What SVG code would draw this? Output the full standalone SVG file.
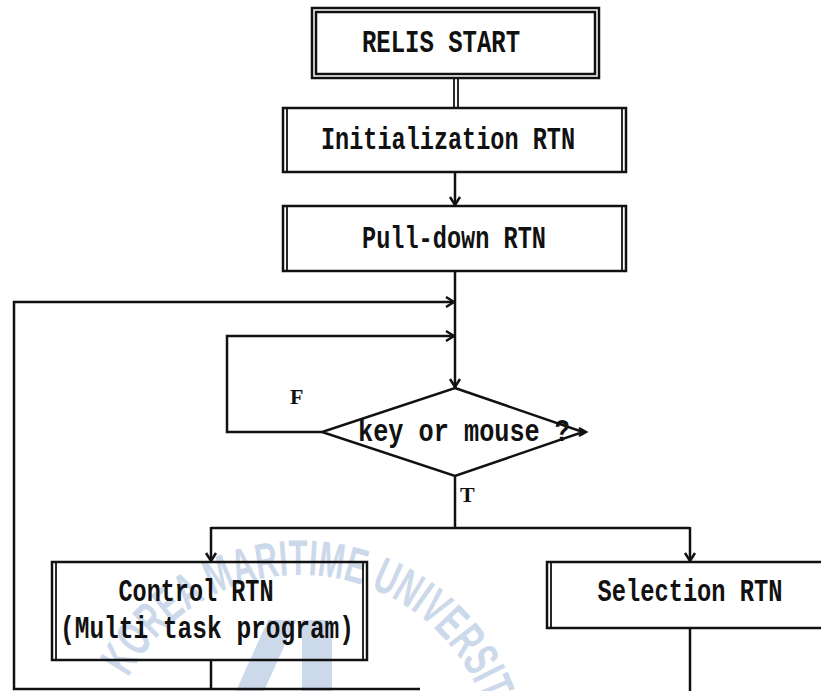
<svg xmlns="http://www.w3.org/2000/svg" width="821" height="691" viewBox="0 0 821 691">
  <style>
    .box { fill: none; stroke: #111; stroke-width: 2.5; }
    .bar { stroke: #111; stroke-width: 1.8; }
    .ln  { fill: none; stroke: #111; stroke-width: 2.5; }
    .lbl { font-family: "Liberation Mono", "DejaVu Sans Mono", monospace; font-weight: bold; font-size: 31px; fill: #111; text-anchor: middle; }
    .tf  { font-family: "Liberation Serif", "DejaVu Serif", serif; font-weight: bold; font-size: 22px; fill: #111; }
    .wm  { font-family: "Liberation Sans", "DejaVu Sans", sans-serif; font-weight: bold; font-size: 50px; fill: #ccd9ea; }
  </style>
  <defs>
    <marker id="arr" markerUnits="userSpaceOnUse" markerWidth="14" markerHeight="14" viewBox="-11 -7 14 14" refX="0" refY="0" orient="auto">
      <path d="M-8,-5 L0,0 L-8,5" fill="none" stroke="#111" stroke-width="2.5"/>
    </marker>
    <path id="wmArc" d="M128.2,677.7 A195,195 0 0 1 489,722"/>
  </defs>

  <rect width="821" height="691" fill="#fff"/>

  <!-- faint emblem stamp in the lower part of the sheet -->
  <g id="emblem">
    <text class="wm"><textPath href="#wmArc" textLength="468" lengthAdjust="spacingAndGlyphs">KOREA MARITIME UNIVERSITY</textPath></text>
    <polygon points="236,691 268,620 296,620 264,691" fill="#ccd9ea"/>
    <polygon points="302,620 332,620 332,691 302,691" fill="#ccd9ea"/>
  </g>

  <g id="connectors">
    <!-- start to initialization (double line) -->
    <line class="bar" x1="454" y1="78" x2="454" y2="108"/>
    <line class="bar" x1="458" y1="78" x2="458" y2="108"/>
    <path class="ln" d="M455,172 V205" marker-end="url(#arr)"/>
    <path class="ln" d="M455,271 V387" marker-end="url(#arr)"/>
    <!-- outer return loop -->
    <path class="ln" d="M420,689 H14 V302 H454" marker-end="url(#arr)"/>
    <path class="ln" d="M211,660 V689"/>
    <!-- false branch -->
    <path class="ln" d="M322,432 H227 V336 H454" marker-end="url(#arr)"/>
    <!-- true branch -->
    <path class="ln" d="M455,476 V528"/>
    <path class="ln" d="M211,528 H690"/>
    <path class="ln" d="M211,527 V561" marker-end="url(#arr)"/>
    <path class="ln" d="M690,527 V561" marker-end="url(#arr)"/>
    <path class="ln" d="M690,628 V691"/>
  </g>

  <g id="start">
    <rect class="box" x="312" y="8" width="287" height="70"/>
    <rect class="box" x="316" y="12" width="279" height="62" stroke-width="1.8"/>
    <text class="lbl" x="441" y="52" textLength="158" lengthAdjust="spacingAndGlyphs">RELIS START</text>
  </g>

  <g id="init">
    <rect class="box" x="283" y="108" width="343" height="64"/>
    <line class="bar" x1="287" y1="108" x2="287" y2="172"/>
    <line class="bar" x1="622" y1="108" x2="622" y2="172"/>
    <text class="lbl" x="448" y="149" textLength="254" lengthAdjust="spacingAndGlyphs">Initialization RTN</text>
  </g>

  <g id="pulldown">
    <rect class="box" x="283" y="206" width="343" height="65"/>
    <line class="bar" x1="287" y1="206" x2="287" y2="271"/>
    <line class="bar" x1="622" y1="206" x2="622" y2="271"/>
    <text class="lbl" x="454" y="248" textLength="184" lengthAdjust="spacingAndGlyphs">Pull-down RTN</text>
  </g>

  <g id="decision">
    <polygon class="box" points="455,388 583,432 455,476 322,432"/>
    <path class="ln" d="M579,428 L586,432 L579,436" stroke-width="2"/>
    <text class="lbl" x="464" y="441" textLength="212" lengthAdjust="spacingAndGlyphs">key or mouse ?</text>
    <text class="tf" x="290" y="404">F</text>
    <text class="tf" x="460" y="502">T</text>
  </g>

  <g id="control">
    <rect class="box" x="52" y="562" width="315" height="98"/>
    <line class="bar" x1="56" y1="562" x2="56" y2="660"/>
    <line class="bar" x1="363" y1="562" x2="363" y2="660"/>
    <text class="lbl" x="196" y="601" textLength="155" lengthAdjust="spacingAndGlyphs">Control RTN</text>
    <text class="lbl" x="207" y="638" textLength="294" lengthAdjust="spacingAndGlyphs">(Multi task program)</text>
  </g>

  <g id="selection">
    <rect class="box" x="547" y="562" width="290" height="66"/>
    <line class="bar" x1="551" y1="562" x2="551" y2="628"/>
    <text class="lbl" x="690" y="601" textLength="185" lengthAdjust="spacingAndGlyphs">Selection RTN</text>
  </g>
</svg>
